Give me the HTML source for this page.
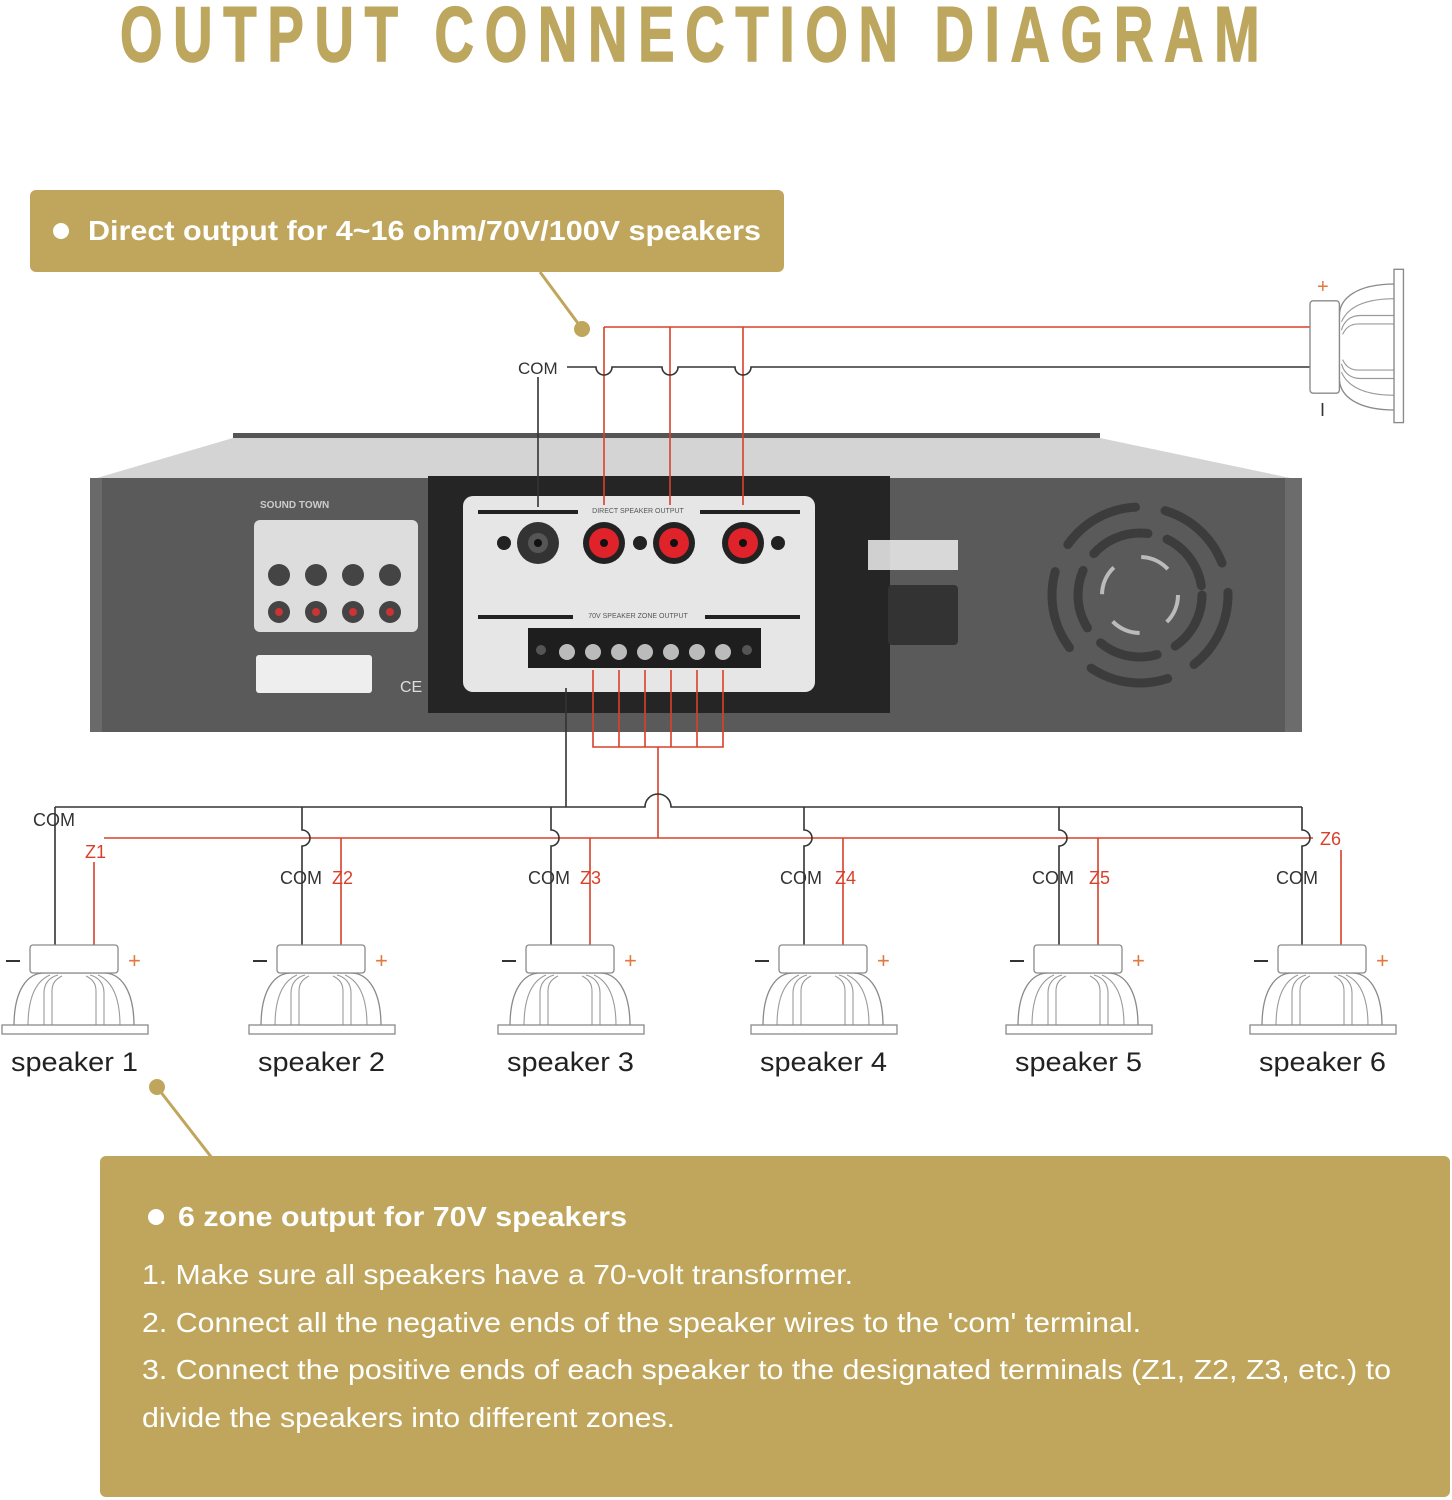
<!DOCTYPE html>
<html><head><meta charset="utf-8"><style>
html,body{margin:0;padding:0;background:#fff;}
svg{display:block;}
text{font-family:"Liberation Sans",sans-serif;}
</style></head><body>
<svg width="1452" height="1500" viewBox="0 0 1452 1500" xmlns="http://www.w3.org/2000/svg">
<defs>
<g id="spk">
  <path d="M-60,81 C-60,44 -46,28 -30,28 L30,28 C46,28 60,44 60,81 Z" fill="#fff" stroke="#8a8a8a" stroke-width="1.3"/>
  <path d="M-46,81 C-46,52 -38,36 -24,30 M46,81 C46,52 38,36 24,30 M-30,81 V48 C-30,38 -24,32 -16,30 M30,81 V48 C30,38 24,32 16,30 M-22,81 V46 C-22,38 -18,34 -12,31 M22,81 V46 C22,38 18,34 12,31" fill="none" stroke="#9a9a9a" stroke-width="1.1"/>
  <rect x="-72" y="80" width="146" height="9" fill="#fff" stroke="#8a8a8a" stroke-width="1.3"/>
  <rect x="-44" y="0" width="88" height="28" rx="3" fill="#fff" stroke="#8a8a8a" stroke-width="1.3"/>
</g>
</defs>

<g transform="translate(120,61) scale(0.7,1)">
<text x="0" y="0" font-weight="bold" font-size="78" fill="#bda65e" stroke="#bda65e" stroke-width="1.5" textLength="1628" lengthAdjust="spacing">OUTPUT CONNECTION DIAGRAM</text>
</g>

<!-- top callout -->
<rect x="30" y="190" width="754" height="82" rx="6" fill="#bfa65c"/>
<circle cx="61" cy="231" r="8" fill="#fff"/>
<text x="88" y="240" font-size="28" font-weight="bold" fill="#fff" textLength="673" lengthAdjust="spacingAndGlyphs">Direct output for 4~16 ohm/70V/100V speakers</text>
<line x1="540" y1="272" x2="580" y2="326" stroke="#bfa65c" stroke-width="3"/>
<circle cx="582" cy="329" r="8" fill="#bfa65c"/>

<!-- amplifier -->
<polygon points="233,433 1100,433 1100,440 233,440" fill="#555"/>
<polygon points="90,480 233,438 1100,438 1300,480" fill="#d4d4d4"/>
<rect x="90" y="478" width="1212" height="254" fill="#5a5a5a"/>
<rect x="90" y="478" width="12" height="254" fill="#6a6a6a"/>
<rect x="1285" y="478" width="17" height="254" fill="#6c6c6c"/>
<rect x="428" y="476" width="462" height="237" fill="#252526"/>
<rect x="463" y="496" width="352" height="196" rx="10" fill="#e6e6e6"/>
<rect x="478" y="510" width="100" height="4" fill="#222"/><rect x="700" y="510" width="100" height="4" fill="#222"/>
<rect x="478" y="615" width="95" height="4" fill="#222"/><rect x="705" y="615" width="95" height="4" fill="#222"/>
<text x="638" y="513" font-size="7" fill="#555" text-anchor="middle">DIRECT SPEAKER OUTPUT</text>
<text x="638" y="618" font-size="7" fill="#555" text-anchor="middle">70V SPEAKER ZONE OUTPUT</text>
<circle cx="504" cy="543" r="7" fill="#222"/>
<circle cx="538" cy="543" r="21" fill="#333"/><circle cx="538" cy="543" r="10" fill="#555"/><circle cx="538" cy="543" r="4" fill="#111"/>
<circle cx="604" cy="543" r="21" fill="#222"/><circle cx="604" cy="543" r="15" fill="#e0222a"/><circle cx="604" cy="543" r="4" fill="#111"/>
<circle cx="640" cy="543" r="7" fill="#222"/>
<circle cx="674" cy="543" r="21" fill="#222"/><circle cx="674" cy="543" r="15" fill="#e0222a"/><circle cx="674" cy="543" r="4" fill="#111"/>
<circle cx="743" cy="543" r="21" fill="#222"/><circle cx="743" cy="543" r="15" fill="#e0222a"/><circle cx="743" cy="543" r="4" fill="#111"/>
<circle cx="778" cy="543" r="7" fill="#222"/>
<rect x="528" y="628" width="233" height="40" fill="#1e1e1e"/>
<g fill="#bbb"><circle cx="567" cy="652" r="8"/><circle cx="593" cy="652" r="8"/><circle cx="619" cy="652" r="8"/><circle cx="645" cy="652" r="8"/><circle cx="671" cy="652" r="8"/><circle cx="697" cy="652" r="8"/><circle cx="723" cy="652" r="8"/></g>
<circle cx="541" cy="650" r="5" fill="#555"/><circle cx="747" cy="650" r="5" fill="#555"/>
<rect x="254" y="520" width="164" height="112" rx="6" fill="#ddd"/>
<g fill="#444"><circle cx="279" cy="575" r="11"/><circle cx="316" cy="575" r="11"/><circle cx="353" cy="575" r="11"/><circle cx="390" cy="575" r="11"/><circle cx="279" cy="612" r="11"/><circle cx="316" cy="612" r="11"/><circle cx="353" cy="612" r="11"/><circle cx="390" cy="612" r="11"/></g>
<g fill="#c33"><circle cx="279" cy="612" r="4"/><circle cx="316" cy="612" r="4"/><circle cx="353" cy="612" r="4"/><circle cx="390" cy="612" r="4"/></g>
<rect x="256" y="655" width="116" height="38" rx="3" fill="#eee"/>
<text x="260" y="508" font-size="10" font-weight="bold" fill="#ccc">SOUND TOWN</text>
<text x="400" y="692" font-size="16" fill="#ddd">CE</text>
<rect x="868" y="540" width="90" height="30" fill="#eee" opacity="0.85"/>
<rect x="888" y="585" width="70" height="60" rx="4" fill="#333"/>
<g fill="none" stroke="#3c3c3c" stroke-width="9" stroke-linecap="round">
<circle cx="1140" cy="595" r="88" stroke-dasharray="80 30"/>
<circle cx="1140" cy="595" r="62" stroke-dasharray="60 20"/>
</g>
<circle cx="1140" cy="595" r="38" fill="none" stroke="#bbb" stroke-width="4" stroke-dasharray="30 30"/>

<!-- top wires -->
<g fill="none" stroke-width="1.6">
<path d="M604,327 H1310 M604,327 V505 M670,327 V505 M743,327 V505" stroke="#d9402a"/>
<path d="M567,367 H596 a8,8 0 0 0 16,0 H662 a8,8 0 0 0 16,0 H735 a8,8 0 0 0 16,0 H1310" stroke="#333"/>
<path d="M538,377 V507" stroke="#333"/>
</g>
<text x="518" y="374" font-size="17" fill="#333">COM</text>
<g transform="translate(1310,347) rotate(-90) scale(1.05)"><use href="#spk"/></g>
<text x="1317" y="293" font-size="20" fill="#e07840">+</text>
<text x="1320" y="416" font-size="18" fill="#333">I</text>

<!-- lower wires -->
<g fill="none" stroke-width="1.6">
<path d="M593,670 V747 H723 V670 M619,670 V747 M645,670 V747 M671,670 V747 M697,670 V747 M658,747 V838" stroke="#d9402a"/>
<path d="M104,838 H1313 M94,862 V945 M341,838 V945 M590,838 V945 M843,838 V945 M1098,838 V945 M1341,850 V945" stroke="#d9402a"/>
<path d="M566,688 V807 M55,807 H645 a13,13 0 0 1 26,0 H1302 M55,807 V945" stroke="#333"/>
<path d="M302,807 V830 a8,8 0 0 1 0,16 V945 M551,807 V830 a8,8 0 0 1 0,16 V945 M804,807 V830 a8,8 0 0 1 0,16 V945 M1059,807 V830 a8,8 0 0 1 0,16 V945 M1302,807 V830 a8,8 0 0 1 0,16 V945" stroke="#333"/>
</g>
<g font-size="18">
<text x="33" y="826" fill="#333">COM</text><text x="85" y="858" fill="#d9402a">Z1</text>
<text x="280" y="884" fill="#333">COM</text><text x="332" y="884" fill="#d9402a">Z2</text>
<text x="528" y="884" fill="#333">COM</text><text x="580" y="884" fill="#d9402a">Z3</text>
<text x="780" y="884" fill="#333">COM</text><text x="835" y="884" fill="#d9402a">Z4</text>
<text x="1032" y="884" fill="#333">COM</text><text x="1089" y="884" fill="#d9402a">Z5</text>
<text x="1276" y="884" fill="#333">COM</text><text x="1320" y="845" fill="#d9402a">Z6</text>
</g>

<!-- speakers -->
<g font-size="22">
<g transform="translate(74,945)"><use href="#spk"/><rect x="-68" y="15" width="14" height="2" fill="#333"/><text x="54" y="23" fill="#e07840">+</text></g>
<g transform="translate(321,945)"><use href="#spk"/><rect x="-68" y="15" width="14" height="2" fill="#333"/><text x="54" y="23" fill="#e07840">+</text></g>
<g transform="translate(570,945)"><use href="#spk"/><rect x="-68" y="15" width="14" height="2" fill="#333"/><text x="54" y="23" fill="#e07840">+</text></g>
<g transform="translate(823,945)"><use href="#spk"/><rect x="-68" y="15" width="14" height="2" fill="#333"/><text x="54" y="23" fill="#e07840">+</text></g>
<g transform="translate(1078,945)"><use href="#spk"/><rect x="-68" y="15" width="14" height="2" fill="#333"/><text x="54" y="23" fill="#e07840">+</text></g>
<g transform="translate(1322,945)"><use href="#spk"/><rect x="-68" y="15" width="14" height="2" fill="#333"/><text x="54" y="23" fill="#e07840">+</text></g>
</g>
<g font-size="27" fill="#222">
<text x="11" y="1071" textLength="127" lengthAdjust="spacingAndGlyphs">speaker 1</text>
<text x="258" y="1071" textLength="127" lengthAdjust="spacingAndGlyphs">speaker 2</text>
<text x="507" y="1071" textLength="127" lengthAdjust="spacingAndGlyphs">speaker 3</text>
<text x="760" y="1071" textLength="127" lengthAdjust="spacingAndGlyphs">speaker 4</text>
<text x="1015" y="1071" textLength="127" lengthAdjust="spacingAndGlyphs">speaker 5</text>
<text x="1259" y="1071" textLength="127" lengthAdjust="spacingAndGlyphs">speaker 6</text>
</g>

<!-- bottom callout -->
<circle cx="157" cy="1087" r="8" fill="#bfa65c"/>
<line x1="160" y1="1091" x2="212" y2="1158" stroke="#bfa65c" stroke-width="3"/>
<rect x="100" y="1156" width="1350" height="341" rx="6" fill="#bfa65c"/>
<circle cx="156" cy="1217" r="8" fill="#fff"/>
<text x="178" y="1226" font-size="28" font-weight="bold" fill="#fff" textLength="449" lengthAdjust="spacingAndGlyphs">6 zone output for 70V speakers</text>
<g font-size="28" fill="#fff">
<text x="142" y="1284" textLength="711" lengthAdjust="spacingAndGlyphs">1. Make sure all speakers have a 70-volt transformer.</text>
<text x="142" y="1332" textLength="999" lengthAdjust="spacingAndGlyphs">2. Connect all the negative ends of the speaker wires to the 'com' terminal.</text>
<text x="142" y="1379" textLength="1249" lengthAdjust="spacingAndGlyphs">3. Connect the positive ends of each speaker to the designated terminals (Z1, Z2, Z3, etc.) to</text>
<text x="142" y="1427" textLength="533" lengthAdjust="spacingAndGlyphs">divide the speakers into different zones.</text>
</g>
</svg>
</body></html>
